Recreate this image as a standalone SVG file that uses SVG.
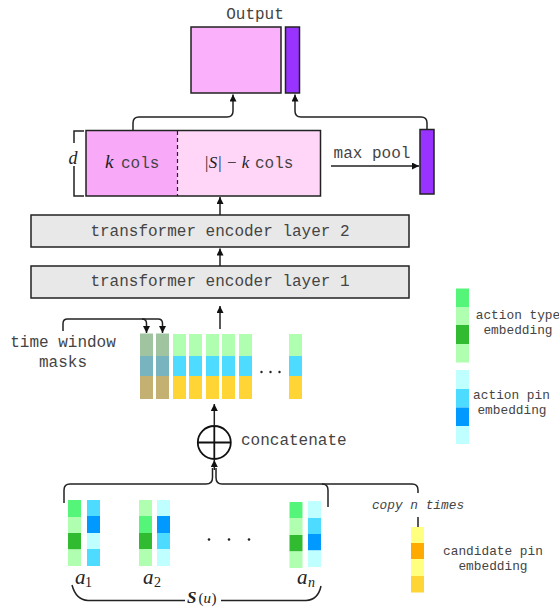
<svg xmlns="http://www.w3.org/2000/svg" width="559" height="607" viewBox="0 0 559 607">
<defs>
<marker id="ah" markerUnits="userSpaceOnUse" markerWidth="8" markerHeight="8" refX="7" refY="3.5" orient="auto">
<path d="M0,0 L7,3.5 L0,7 z" fill="#111"/>
</marker>
</defs>
<style>
.mono{font-family:"Liberation Mono","Courier New",monospace;fill:#444;}
.m16{font-size:16px;}
.m13{font-size:12.8px;}
.math{font-family:"Liberation Serif","Times New Roman",serif;font-style:italic;fill:#222;}
.up{font-style:normal;}
.conn{fill:none;stroke:#222;stroke-width:1.5;}
.box{stroke:#222;stroke-width:1.5;}
.lg{fill:#b0ffb0}.bg{fill:#55f57a}.dg{fill:#30bb30}
.lc{fill:#c0ffff}.mc{fill:#4ddcff}.db{fill:#0099ff}
.ly{fill:#ffff80}.or{fill:#ffaa00}.yy{fill:#ffd535}
.mg{fill:#a0c4a0}.mb{fill:#78b4c0}.my{fill:#c4b070}
</style>
<rect width="559" height="607" fill="#fff"/>

<g id="output">
<text class="mono m16" x="255" y="19" text-anchor="middle">Output</text>
<rect class="box" x="191" y="27" width="90" height="66" fill="#fbb0fb"/>
<rect class="box" x="285.5" y="27" width="14" height="66" fill="#9933ff"/>
</g>

<g id="encoding">
<rect x="86" y="130.5" width="91.5" height="65.5" fill="#f8aaf8"/>
<rect x="177.5" y="130.5" width="143" height="65.5" fill="#ffd6f8"/>
<line x1="177.5" y1="131" x2="177.5" y2="196" stroke="#222" stroke-width="1.2" stroke-dasharray="4,3"/>
<rect class="box" x="86" y="130.5" width="234.5" height="65.5" fill="none"/>
<text x="105" y="168" class="math" font-size="19">k</text>
<text class="mono m16" x="121" y="168">cols</text>
<text x="204" y="168" class="math" font-size="17">|S| − k</text>
<text class="mono m16" x="255" y="168">cols</text>
</g>

<g id="d-brace">
<path class="conn" d="M84,131 H74 V143 M74,166 V196 H84" stroke-width="1.2"/>
<text x="68.5" y="163.5" class="math" font-size="18">d</text>
</g>

<g id="pooled">
<rect class="box" x="420" y="129.5" width="14" height="64.5" fill="#9933ff"/>
<text class="mono m16" x="372" y="158" text-anchor="middle">max pool</text>
</g>

<g id="layer2">
<rect class="box" x="31" y="215" width="378" height="32" fill="#e8e8e8"/>
<text class="mono m16" x="220" y="236" text-anchor="middle">transformer encoder layer 2</text>
</g>
<g id="layer1">
<rect class="box" x="31" y="266" width="378" height="32" fill="#e8e8e8"/>
<text class="mono m16" x="220" y="286" text-anchor="middle">transformer encoder layer 1</text>
</g>

<g id="tokens">
<rect class="mg" x="140" y="333.5" width="13" height="22.5"/><rect class="mb" x="140" y="356" width="13" height="20"/><rect class="my" x="140" y="376" width="13" height="23"/>
<rect class="mg" x="156" y="333.5" width="13" height="22.5"/><rect class="mb" x="156" y="356" width="13" height="20"/><rect class="my" x="156" y="376" width="13" height="23"/>
<rect class="lg" x="173" y="334" width="13" height="22"/><rect class="mc" x="173" y="356" width="13" height="20"/><rect class="yy" x="173" y="376" width="13" height="23"/>
<rect class="lg" x="189" y="334" width="13" height="22"/><rect class="mc" x="189" y="356" width="13" height="20"/><rect class="yy" x="189" y="376" width="13" height="23"/>
<rect class="lg" x="206" y="334" width="13" height="22"/><rect class="mc" x="206" y="356" width="13" height="20"/><rect class="yy" x="206" y="376" width="13" height="23"/>
<rect class="lg" x="222" y="334" width="13" height="22"/><rect class="mc" x="222" y="356" width="13" height="20"/><rect class="yy" x="222" y="376" width="13" height="23"/>
<rect class="lg" x="239" y="334" width="13" height="22"/><rect class="mc" x="239" y="356" width="13" height="20"/><rect class="yy" x="239" y="376" width="13" height="23"/>
<rect class="lg" x="289" y="334" width="13" height="22"/><rect class="mc" x="289" y="356" width="13" height="20"/><rect class="yy" x="289" y="376" width="13" height="23"/>
<circle cx="261.5" cy="372" r="1.2" fill="#222"/><circle cx="270.5" cy="372" r="1.2" fill="#222"/><circle cx="279.5" cy="372" r="1.2" fill="#222"/>
</g>

<g id="time-window-masks">
<text class="mono m16" x="63" y="347" text-anchor="middle">time window</text>
<text class="mono m16" x="63" y="367" text-anchor="middle">masks</text>
</g>

<g id="concatenate">
<circle cx="214.3" cy="442.5" r="16.5" fill="#fff" stroke="#111" stroke-width="1.8"/>
<line x1="197.8" y1="442.5" x2="230.8" y2="442.5" stroke="#111" stroke-width="1.8"/>
<line x1="214.3" y1="426" x2="214.3" y2="459" stroke="#111" stroke-width="1.8"/>
<text class="mono m16" x="241" y="445">concatenate</text>
</g>

<g id="legend-action-type">
<rect class="bg" x="456" y="288.5" width="13" height="19"/>
<rect class="lg" x="456" y="307.5" width="13" height="17.5"/>
<rect class="dg" x="456" y="325" width="13" height="19"/>
<rect class="lg" x="456" y="344" width="13" height="18.5"/>
<text class="mono m13" x="518" y="318.5" text-anchor="middle">action type</text>
<text class="mono m13" x="518" y="334" text-anchor="middle">embedding</text>
</g>
<g id="legend-action-pin">
<rect class="lc" x="456" y="370" width="13" height="19"/>
<rect class="mc" x="456" y="389" width="13" height="18.5"/>
<rect class="db" x="456" y="407.5" width="13" height="18.5"/>
<rect class="lc" x="456" y="426" width="13" height="18"/>
<text class="mono m13" x="511.5" y="399" text-anchor="middle">action pin</text>
<text class="mono m13" x="512" y="414" text-anchor="middle">embedding</text>
</g>

<g id="a1">
<rect class="bg" x="68" y="500" width="13" height="17"/><rect class="lg" x="68" y="517" width="13" height="16"/><rect class="dg" x="68" y="533" width="13" height="16.5"/><rect class="lg" x="68" y="549.5" width="13" height="16.5"/>
<rect class="mc" x="87" y="500" width="13" height="16"/><rect class="db" x="87" y="516" width="13" height="17"/><rect class="lc" x="87" y="533" width="13" height="16"/><rect class="mc" x="87" y="549" width="13" height="17"/>
<text class="math" x="75" y="584" font-size="21">a</text><text class="math up" x="85" y="587" font-size="14">1</text>
</g>
<g id="a2">
<rect class="lg" x="139" y="500" width="13" height="16"/><rect class="bg" x="139" y="516" width="13" height="17"/><rect class="dg" x="139" y="533" width="13" height="16"/><rect class="lg" x="139" y="549" width="13" height="17"/>
<rect class="lc" x="157" y="500" width="13" height="16"/><rect class="db" x="157" y="516" width="13" height="17"/><rect class="mc" x="157" y="533" width="13" height="16"/><rect class="lc" x="157" y="549" width="13" height="17"/>
<text class="math" x="143" y="584" font-size="21">a</text><text class="math up" x="154" y="587" font-size="14">2</text>
</g>
<g id="dots">
<circle cx="209" cy="539.5" r="1.3" fill="#222"/><circle cx="229" cy="539.5" r="1.3" fill="#222"/><circle cx="249" cy="539.5" r="1.3" fill="#222"/>
</g>
<g id="an">
<rect class="bg" x="289.5" y="502" width="13" height="16"/><rect class="lg" x="289.5" y="518" width="13" height="17"/><rect class="dg" x="289.5" y="535" width="13" height="16.5"/><rect class="lg" x="289.5" y="551.5" width="13" height="16.5"/>
<rect class="lc" x="308" y="501" width="13" height="17"/><rect class="mc" x="308" y="518" width="13" height="16"/><rect class="db" x="308" y="534" width="13" height="16.5"/><rect class="lc" x="308" y="550.5" width="13" height="16.5"/>
<text class="math" x="297" y="584" font-size="21">a</text><text class="math" x="308" y="587" font-size="14">n</text>
</g>

<g id="candidate-pin">
<rect class="ly" x="411" y="527" width="13" height="16"/>
<rect class="or" x="411" y="543" width="13" height="16"/>
<rect class="ly" x="411" y="559" width="13" height="17"/>
<rect class="yy" x="411" y="576" width="13" height="16.5"/>
<text class="mono m13" x="493" y="555" text-anchor="middle">candidate pin</text>
<text class="mono m13" x="493" y="570" text-anchor="middle">embedding</text>
<text class="mono m13" x="418" y="509" text-anchor="middle" font-style="italic">copy n times</text>
</g>

<g id="su-label">
<text x="187" y="603" class="math" font-size="17" font-weight="bold">S</text><text x="198.5" y="603" class="math up" font-size="15">(</text><text x="203.5" y="603" class="math" font-size="15">u</text><text x="211.5" y="603" class="math up" font-size="15">)</text>
</g>

<g id="connectors">
<path class="conn" d="M133,130 V123 Q133,117 139,117 H227 Q233,117 233,111 V94.5" marker-end="url(#ah)"/>
<path class="conn" d="M427,129.5 V123 Q427,117 421,117 H301 Q295,117 295,111 V94.5" marker-end="url(#ah)"/>
<path class="conn" d="M331,166 H419" marker-end="url(#ah)"/>
<path class="conn" d="M220,215 V197" marker-end="url(#ah)"/>
<path class="conn" d="M220,266 V248.5" marker-end="url(#ah)"/>
<path class="conn" d="M220,329 V306" marker-end="url(#ah)"/>
<path class="conn" d="M214.3,426 V404" marker-end="url(#ah)"/>
<path class="conn" d="M63,331 V323.5 Q63,319 67.5,319 H142 Q146.5,319 146.5,323.5 V333" marker-end="url(#ah)"/>
<path class="conn" d="M142,319 H158 Q162.5,319 162.5,323.5 V333" marker-end="url(#ah)"/>
<path class="conn" d="M64,503 V490 Q64,484 70,484 H206 Q212.5,484 212.5,477.5 V468"/>
<path class="conn" d="M328,507 V490 Q328,484 322,484 H222 Q216,484 216,477.5 V468"/>
<path class="conn" d="M418,493 V490 Q418,484 412,484 H322"/>
<path class="conn" d="M214.3,470 V460" marker-end="url(#ah)"/>
<path class="conn" d="M418,517 V527" stroke-width="1.3"/>
<path class="conn" d="M72,585 Q76,600 88,600.5 H185 M221,600.5 H306 Q318,600 321,586"/>
</g>
</svg>
